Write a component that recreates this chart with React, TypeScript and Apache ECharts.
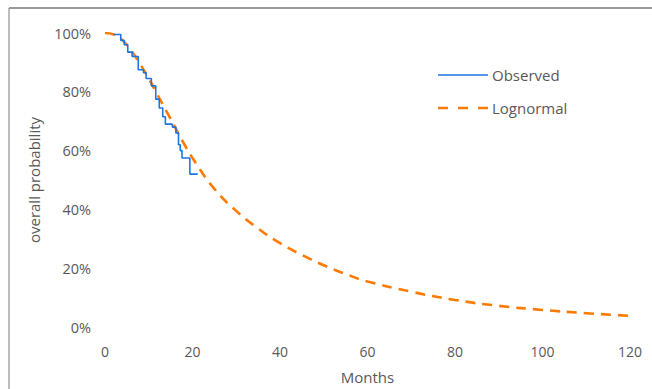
import React, { useEffect, useRef } from "react";
import * as echarts from "echarts";

const xTicks = [0, 20, 40, 60, 80, 100, 120];
const yTicks = [0, 0.2, 0.4, 0.6, 0.8, 1.0];

// Observed (Kaplan-Meier style steps)
const observedMonths = [2, 3.6, 4.4, 5.2, 6.2, 7.6, 8.8, 9.4, 10.6, 11.6, 12.4, 13.2, 13.8, 15.4, 16.2, 16.8, 17.2, 17.6, 19.4, 21.2];
const observedProb = [0.995, 0.975, 0.96, 0.935, 0.92, 0.875, 0.865, 0.845, 0.82, 0.775, 0.745, 0.715, 0.69, 0.68, 0.66, 0.62, 0.6, 0.575, 0.52, 0.52];

// Lognormal fitted curve
const lognormalMonths = [0, 2, 4, 6, 8, 10, 12, 14, 16, 18, 20, 25, 30, 35, 40, 45, 50, 55, 60, 70, 80, 90, 100, 110, 120];
const lognormalProb = [1.0, 0.995, 0.975, 0.94, 0.895, 0.845, 0.79, 0.735, 0.68, 0.625, 0.575, 0.47, 0.395, 0.335, 0.285, 0.245, 0.21, 0.18, 0.155, 0.12, 0.092, 0.072, 0.058, 0.047, 0.038];

const legendNames = ["Observed", "Lognormal"];

const FONT = "Open Sans";
const TEXT = "#595959";
const BLUE = "#1f74e0";
const ORANGE = "#ff7a00";

export default function App() {
  const ref = useRef<HTMLDivElement>(null);
  useEffect(() => {
    if (!ref.current) return;
    const chart = echarts.init(ref.current, undefined, { renderer: "svg", width: 652, height: 389 });
    chart.setOption({
      animation: false,
      backgroundColor: "#ffffff",
      grid: { left: 105, right: 22, top: 33, bottom: 62, containLabel: false, outerBoundsMode: "none" },
      xAxis: {
        type: "value",
        min: 0,
        max: 120,
        interval: 20,
        name: "Months",
        nameLocation: "middle",
        nameGap: 42,
        nameTextStyle: { fontFamily: FONT, fontSize: 15, color: TEXT },
        axisLine: { show: false },
        axisTick: { show: false },
        splitLine: { show: false },
        axisLabel: { margin: 17, fontFamily: FONT, fontSize: 14, color: TEXT, customValues: xTicks },
      },
      yAxis: {
        type: "value",
        min: 0,
        max: 1,
        interval: 0.2,
        name: "overall probability",
        nameLocation: "middle",
        nameGap: 64,
        nameTextStyle: { fontFamily: FONT, fontSize: 15, color: TEXT },
        axisLine: { show: false },
        axisTick: { show: false },
        splitLine: { show: false },
        axisLabel: {
          margin: 14,
          fontFamily: FONT,
          fontSize: 14.5,
          color: TEXT,
          customValues: yTicks,
          formatter: (v: number) => Math.round(v * 100) + "%",
        },
      },
      series: [
        {
          name: legendNames[0],
          type: "line",
          step: "end",
          showSymbol: false,
          symbol: "none",
          data: observedMonths.map((t, i) => [t, observedProb[i]]),
          lineStyle: { color: BLUE, width: 1.6 },
          itemStyle: { color: BLUE },
          z: 3,
        },
        {
          name: legendNames[1],
          type: "line",
          smooth: true,
          showSymbol: false,
          symbol: "none",
          data: lognormalMonths.map((t, i) => [t, lognormalProb[i]]),
          lineStyle: { color: ORANGE, width: 2.6, type: [10, 7] },
          itemStyle: { color: ORANGE },
          z: 2,
        },
      ],
      graphic: [
        { type: "line", shape: { x1: 9, y1: 8, x2: 652, y2: 8 }, style: { stroke: "#7a7a7a", lineWidth: 1.5 } },
        { type: "line", shape: { x1: 9, y1: 8, x2: 9, y2: 389 }, style: { stroke: "#7a7a7a", lineWidth: 1 } },
        { type: "line", shape: { x1: 438, y1: 75, x2: 488, y2: 75 }, style: { stroke: BLUE, lineWidth: 1.6 } },
        { type: "text", x: 492, y: 75, style: { text: legendNames[0], fontFamily: FONT, fontSize: 15, fill: TEXT, verticalAlign: "middle" } },
        { type: "line", shape: { x1: 438, y1: 108, x2: 488, y2: 108 }, style: { stroke: ORANGE, lineWidth: 2.6, lineDash: [10, 10] } },
        { type: "text", x: 492, y: 108, style: { text: legendNames[1], fontFamily: FONT, fontSize: 15, fill: TEXT, verticalAlign: "middle" } },
      ],
    });
    return () => chart.dispose();
  }, []);
  return <div ref={ref} style={{ position: "fixed", left: 0, top: 0, width: 652, height: 389 }} />;
}
